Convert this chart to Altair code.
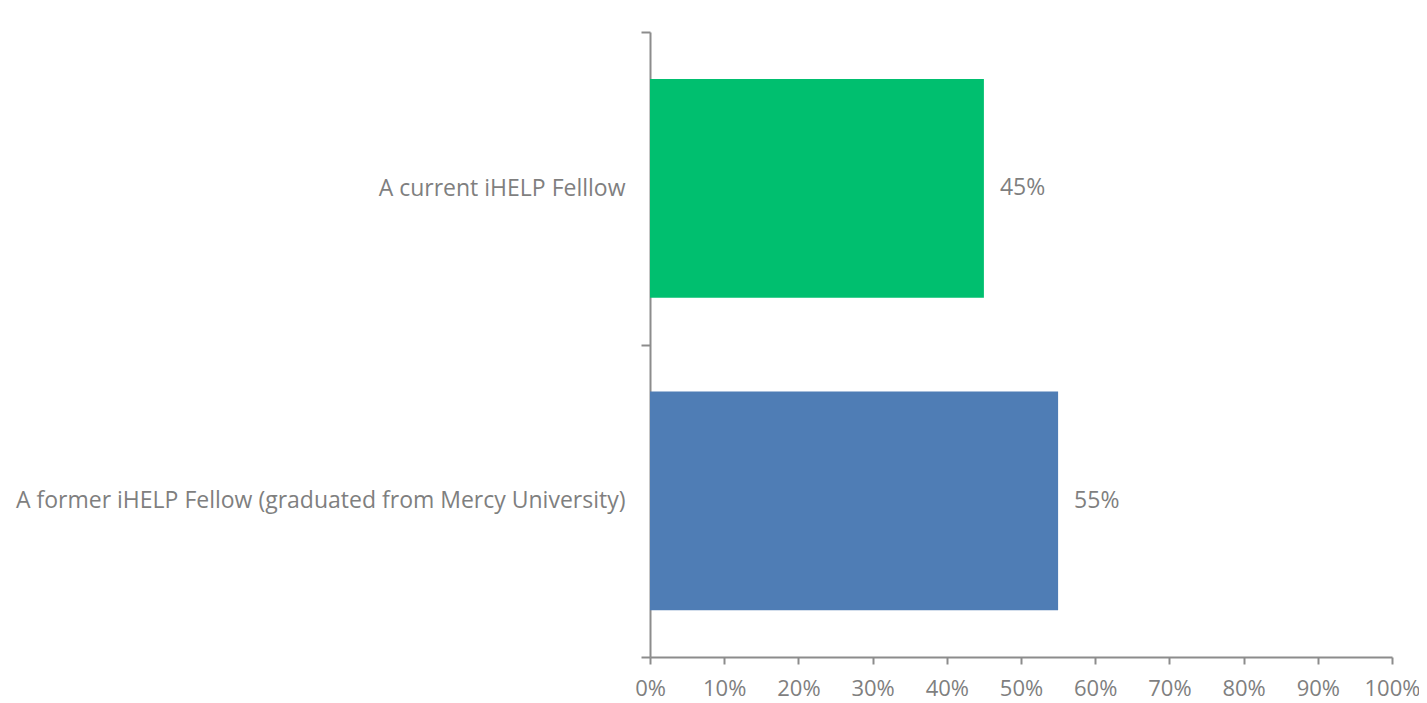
import altair as alt
import pandas as pd

categories = ["A current iHELP Felllow", "A former iHELP Fellow (graduated from Mercy University)"]
values = [0.45, 0.55]
colors = ["#00BF6F", "#4F7DB5"]
x_ticks = [i / 10 for i in range(11)]

df = pd.DataFrame({"category": categories, "value": values})

FONT = "Open Sans"
GRAY = "#7F7F7F"
AXIS = "#8C8C8C"
FS = 23

y_enc = alt.Y(
    "category:N",
    sort=categories,
    title=None,
    scale=alt.Scale(paddingInner=0, paddingOuter=0),
    axis=alt.Axis(
        labelFont=FONT, labelFontSize=FS, labelColor=GRAY, labelPadding=16,
        labelLimit=900, tickBand="extent", tickSize=9, tickColor=AXIS, tickWidth=2,
        domainColor=AXIS, domainWidth=2, grid=False,
    ),
)
x_enc = alt.X(
    "value:Q",
    title=None,
    scale=alt.Scale(domain=[0, 1], nice=False),
    axis=alt.Axis(
        values=x_ticks, format=".0%", labelFont=FONT, labelFontSize=22,
        labelColor=GRAY, labelPadding=14, tickSize=7, tickColor=AXIS, tickWidth=2,
        domainColor=AXIS, domainWidth=2, grid=False, labelFlush=False,
    ),
)

bars = alt.Chart(df).mark_bar(height={"band": 0.7}).encode(
    x=x_enc,
    y=y_enc,
    color=alt.Color("category:N", scale=alt.Scale(domain=categories, range=colors), legend=None),
)

labels = alt.Chart(df).mark_text(
    align="left", baseline="middle", dx=16, font=FONT, fontSize=FS, color=GRAY
).encode(
    x="value:Q",
    y=alt.Y("category:N", sort=categories),
    text=alt.Text("value:Q", format=".0%"),
)

chart = (bars + labels).properties(
    width=742, height=625,
    autosize=alt.AutoSizeParams(type="none"),
    padding={"left": 642, "top": 24, "right": 27, "bottom": 46},
).configure_view(stroke=None)

chart.save("out.html", embed_options={"renderer": "svg", "actions": False})
